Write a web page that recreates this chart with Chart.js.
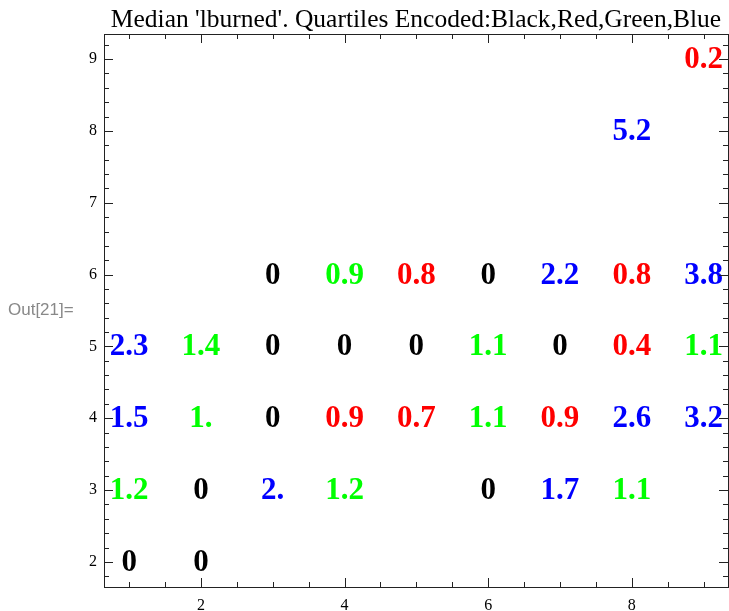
<!DOCTYPE html>
<html>
<head>
<meta charset="utf-8">
<script src="https://cdn.jsdelivr.net/npm/chart.js@4.4.1/dist/chart.umd.min.js"></script>
<style>
  body { margin: 0; background: #fff; overflow: hidden; }
  #wrap { position: relative; width: 729px; height: 611px; }
  #out {
    position: absolute; left: 8px; top: 300px;
    font: 17px "Liberation Sans", Arial, sans-serif; color: #888;
  }
</style>
</head>
<body>
<div id="wrap">
  <canvas id="chart"></canvas>
  <div id="out">Out[21]=</div>
</div>
<script>
const TITLE = "Median 'lburned'. Quartiles Encoded:Black,Red,Green,Blue";

// one array set per quartile colour
const blackX = [3, 6, 3, 4, 5, 7, 3, 2, 6, 1, 2];
const blackY = [6, 6, 5, 5, 5, 5, 4, 3, 3, 2, 2];
const blackText = ["0", "0", "0", "0", "0", "0", "0", "0", "0", "0", "0"];

const redX = [9, 5, 8, 8, 4, 5, 7];
const redY = [9, 6, 6, 5, 4, 4, 4];
const redText = ["0.2", "0.8", "0.8", "0.4", "0.9", "0.7", "0.9"];

const greenX = [4, 2, 6, 9, 2, 6, 1, 4, 8];
const greenY = [6, 5, 5, 5, 4, 4, 3, 3, 3];
const greenText = ["0.9", "1.4", "1.1", "1.1", "1.", "1.1", "1.2", "1.2", "1.1"];

const blueX = [8, 7, 9, 1, 1, 8, 9, 3, 7];
const blueY = [8, 6, 6, 5, 4, 4, 4, 3, 3];
const blueText = ["5.2", "2.2", "3.8", "2.3", "1.5", "2.6", "3.2", "2.", "1.7"];

const xTicks = [2, 4, 6, 8];
const yTicks = [2, 3, 4, 5, 6, 7, 8, 9];

function points(xs, ys) {
  return xs.map((x, i) => ({ x: x, y: ys[i] }));
}

const series = [
  { name: "Black", color: "#000000", data: points(blackX, blackY), text: blackText },
  { name: "Red", color: "#ff0000", data: points(redX, redY), text: redText },
  { name: "Green", color: "#00ff00", data: points(greenX, greenY), text: greenText },
  { name: "Blue", color: "#0000ff", data: points(blueX, blueY), text: blueText }
];

// draws the value text at each point
const textLabels = {
  id: "textLabels",
  afterDatasetsDraw(chart) {
    const ctx = chart.ctx;
    ctx.save();
    ctx.font = 'bold 31px "Liberation Serif", "Times New Roman", serif';
    ctx.textAlign = "center";
    ctx.textBaseline = "middle";
    chart.data.datasets.forEach((ds, di) => {
      const meta = chart.getDatasetMeta(di);
      ctx.fillStyle = ds.textColor;
      meta.data.forEach((pt, i) => {
        ctx.fillText(ds.labels[i], pt.x, pt.y + 1);
      });
    });
    ctx.restore();
  }
};

// Mathematica style frame with inward ticks on all sides
const frameTicks = {
  id: "frameTicks",
  afterDraw(chart) {
    const ctx = chart.ctx;
    const a = chart.chartArea;
    const xs = chart.scales.x, ys = chart.scales.y;
    ctx.save();
    ctx.strokeStyle = "#222";
    ctx.lineWidth = 1;
    ctx.strokeRect(Math.round(a.left) + 0.5, Math.round(a.top) + 0.5,
      Math.round(a.right - a.left), Math.round(a.bottom - a.top));
    ctx.beginPath();
    for (let v = 1; v <= 9; v += 0.5) {
      const px = Math.round(xs.getPixelForValue(v)) + 0.5;
      const len = (v % 2 === 0) ? 9 : 5;
      ctx.moveTo(px, a.bottom); ctx.lineTo(px, a.bottom - len);
      ctx.moveTo(px, a.top); ctx.lineTo(px, a.top + len);
    }
    for (let k = 9; k <= 46; k++) {
      const v = k / 5;
      const py = Math.round(ys.getPixelForValue(v)) + 0.5;
      const len = (k % 5 === 0) ? 9 : 5;
      ctx.moveTo(a.left, py); ctx.lineTo(a.left + len, py);
      ctx.moveTo(a.right, py); ctx.lineTo(a.right - len, py);
    }
    ctx.stroke();
    ctx.restore();
  }
};

const serif = '"Liberation Serif", "Times New Roman", serif';
const tickFont = { family: serif, size: 16 };

new Chart(document.getElementById("chart"), {
  type: "scatter",
  data: {
    datasets: series.map(s => ({
      label: s.name,
      data: s.data,
      labels: s.text,
      textColor: s.color,
      pointRadius: 0,
      pointHoverRadius: 0
    }))
  },
  options: {
    responsive: true,
    maintainAspectRatio: false,
    animation: false,
    layout: { padding: { left: 0, right: 1, top: 0, bottom: 0 } },
    plugins: {
      legend: { display: false },
      tooltip: { enabled: false }
    },
    scales: {
      x: {
        type: "linear",
        min: 0.65,
        max: 9.34,
        grid: { display: false, drawTicks: false },
        border: { display: false },
        afterBuildTicks: s => { s.ticks = xTicks.map(v => ({ value: v })); },
        afterFit: s => { s.height = 24; },
        ticks: { color: "#000", font: tickFont, padding: 9, maxRotation: 0 }
      },
      // top axis only carries the title, so it is centred over the plot
      xTop: {
        type: "linear",
        position: "top",
        min: 0.65,
        max: 9.34,
        grid: { display: false, drawTicks: false },
        border: { display: false },
        ticks: { display: false },
        afterFit: s => { s.height = 34; },
        title: {
          display: true,
          text: TITLE,
          color: "#000",
          font: { family: serif, size: 25.5, weight: "normal", lineHeight: 1 },
          padding: { top: 8, bottom: 0 }
        }
      },
      y: {
        type: "linear",
        min: 1.65,
        max: 9.35,
        grid: { display: false, drawTicks: false },
        border: { display: false },
        afterBuildTicks: s => { s.ticks = yTicks.map(v => ({ value: v })); },
        afterFit: s => { s.width = 104; },
        ticks: { color: "#000", font: tickFont, padding: 7 }
      }
    }
  },
  plugins: [textLabels, frameTicks]
});
</script>
</body>
</html>
